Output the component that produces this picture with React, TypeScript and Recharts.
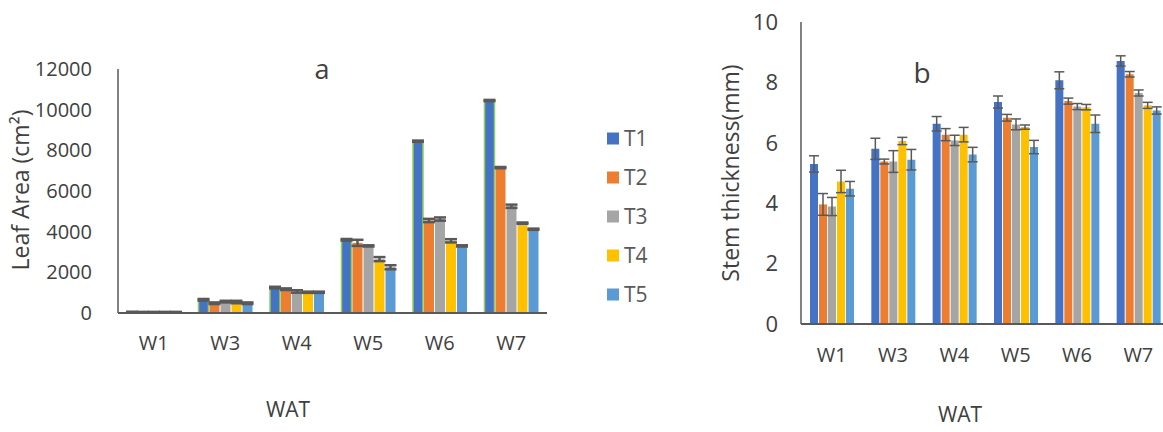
import { Bar, BarChart, ErrorBar, XAxis, YAxis } from "recharts";

const weeks = ["W1", "W3", "W4", "W5", "W6", "W7"];
const treatments = ["T1", "T2", "T3", "T4", "T5"];
const colors = ["#4472c4", "#ed7d31", "#a5a5a5", "#ffc000", "#5b9bd5"];

// leaf area (cm²)
const leafT1 = [50, 650, 1250, 3600, 8450, 10450];
const leafT2 = [45, 480, 1170, 3450, 4550, 7150];
const leafT3 = [45, 560, 1060, 3300, 4620, 5250];
const leafT4 = [45, 540, 1020, 2650, 3550, 4420];
const leafT5 = [45, 480, 1020, 2250, 3300, 4120];

const leafErrT1 = [10, 40, 40, 40, 30, 30];
const leafErrT2 = [10, 40, 40, 150, 80, 30];
const leafErrT3 = [10, 40, 60, 30, 80, 80];
const leafErrT4 = [10, 60, 30, 100, 80, 30];
const leafErrT5 = [10, 40, 30, 100, 30, 30];

const leafTicks = [0, 2000, 4000, 6000, 8000, 10000, 12000];

// stem thickness (mm)
const stemT1 = [5.3, 5.8, 6.63, 7.35, 8.07, 8.71];
const stemT2 = [3.96, 5.38, 6.27, 6.83, 7.38, 8.27];
const stemT3 = [3.89, 5.38, 6.08, 6.61, 7.2, 7.65];
const stemT4 = [4.72, 6.06, 6.27, 6.52, 7.18, 7.24];
const stemT5 = [4.48, 5.44, 5.61, 5.86, 6.63, 7.07];

const stemErrT1 = [0.27, 0.35, 0.24, 0.2, 0.28, 0.17];
const stemErrT2 = [0.36, 0.08, 0.2, 0.11, 0.1, 0.09];
const stemErrT3 = [0.3, 0.36, 0.17, 0.18, 0.1, 0.1];
const stemErrT4 = [0.37, 0.12, 0.24, 0.07, 0.09, 0.1];
const stemErrT5 = [0.24, 0.34, 0.24, 0.22, 0.29, 0.12];

const stemTicks = [0, 2, 4, 6, 8, 10];

function buildRows(values: number[][], errors: number[][]) {
  return weeks.map((week, i) => {
    const row: Record<string, string | number> = { week };
    treatments.forEach((t, j) => {
      row[t] = values[j][i];
      row[`${t}err`] = errors[j][i];
    });
    return row;
  });
}

const leafRows = buildRows(
  [leafT1, leafT2, leafT3, leafT4, leafT5],
  [leafErrT1, leafErrT2, leafErrT3, leafErrT4, leafErrT5],
);
const stemRows = buildRows(
  [stemT1, stemT2, stemT3, stemT4, stemT5],
  [stemErrT1, stemErrT2, stemErrT3, stemErrT4, stemErrT5],
);

const font = "'Open Sans', sans-serif";
const textColor = "#404040";
const axisColor = "#595959";

function Txt({
  x,
  y,
  size,
  children,
  rotate = 0,
}: {
  x: number;
  y: number;
  size: number;
  children: React.ReactNode;
  rotate?: number;
}) {
  return (
    <div
      style={{
        position: "absolute",
        left: x,
        top: y,
        transform: `translate(-50%, -50%) rotate(${rotate}deg)`,
        fontSize: size,
        lineHeight: 1,
        whiteSpace: "nowrap",
        color: textColor,
      }}
    >
      {children}
    </div>
  );
}

function Legend({ x, y, gap, box, size }: { x: number; y: number; gap: number; box: number; size: number }) {
  return (
    <div style={{ position: "absolute", left: x, top: y }}>
      {treatments.map((t, i) => (
        <div
          key={t}
          style={{
            position: "absolute",
            top: i * gap,
            left: 0,
            display: "flex",
            alignItems: "center",
            transform: "translateY(-50%)",
            whiteSpace: "nowrap",
          }}
        >
          <span style={{ display: "inline-block", width: box, height: box, background: colors[i] }} />
          <span style={{ marginLeft: 5, fontSize: size, color: "#595959", lineHeight: 1 }}>{t}</span>
        </div>
      ))}
    </div>
  );
}

export default function App() {
  return (
    <div
      style={{
        position: "absolute",
        left: 0,
        top: 0,
        width: 1163,
        height: 432,
        overflow: "hidden",
        background: "#fff",
        fontFamily: font,
      }}
    >
      <div style={{ position: "absolute", left: 0, top: 0 }}>
        <BarChart
          width={560}
          height={432}
          data={leafRows}
          margin={{ top: 69, right: 13, bottom: 89, left: 0 }}
          barSize={10}
          barGap={1}
        >
          <XAxis
            dataKey="week"
            height={30}
            tickLine={false}
            tickSize={0}
            tickMargin={23}
            axisLine={{ stroke: axisColor, strokeWidth: 2 }}
            tick={{ fill: textColor, fontSize: 20 }}
          />
          <YAxis
            width={118}
            domain={[0, 12000]}
            ticks={leafTicks}
            tickLine={false}
            tickSize={0}
            tickMargin={26}
            axisLine={{ stroke: axisColor, strokeWidth: 1.5 }}
            tick={{ fill: textColor, fontSize: 20 }}
          />
          {treatments.map((t, i) => (
            <Bar
              key={t}
              dataKey={t}
              fill={colors[i]}
              stroke={i === 0 ? "#92d050" : undefined}
              strokeWidth={i === 0 ? 1.5 : 0}
              isAnimationActive={false}
            >
              <ErrorBar
                dataKey={`${t}err`}
                direction="y"
                width={6}
                strokeWidth={2.5}
                stroke={axisColor}
                isAnimationActive={false}
              />
            </Bar>
          ))}
        </BarChart>
      </div>

      <div style={{ position: "absolute", left: 560, top: 0 }}>
        <BarChart
          width={620}
          height={432}
          data={stemRows}
          margin={{ top: 22, right: 11, bottom: 78, left: 0 }}
          barSize={8}
          barGap={1}
        >
          <XAxis
            dataKey="week"
            height={30}
            tickLine={false}
            tickSize={0}
            tickMargin={24}
            axisLine={{ stroke: axisColor, strokeWidth: 2 }}
            tick={{ fill: textColor, fontSize: 20 }}
          />
          <YAxis
            width={241}
            domain={[0, 10]}
            ticks={stemTicks}
            tickLine={false}
            tickSize={0}
            tickMargin={23}
            axisLine={{ stroke: axisColor, strokeWidth: 1.5 }}
            tick={{ fill: textColor, fontSize: 22 }}
          />
          {treatments.map((t, i) => (
            <Bar key={t} dataKey={t} fill={colors[i]} isAnimationActive={false}>
              <ErrorBar
                dataKey={`${t}err`}
                direction="y"
                width={5}
                strokeWidth={1.5}
                stroke={axisColor}
                isAnimationActive={false}
              />
            </Bar>
          ))}
        </BarChart>
      </div>

      <Txt x={322} y={68} size={27}>a</Txt>
      <Txt x={20} y={190} size={23} rotate={-90}>
        Leaf Area (cm²)
      </Txt>
      <Txt x={288} y={409} size={21}>WAT</Txt>

      <Txt x={922} y={72} size={28}>b</Txt>
      <Txt x={730} y={173} size={23} rotate={-90}>
        Stem thickness(mm)
      </Txt>
      <Txt x={960} y={414} size={21}>WAT</Txt>
      <Legend x={607} y={138} gap={39} box={12} size={21} />
    </div>
  );
}
